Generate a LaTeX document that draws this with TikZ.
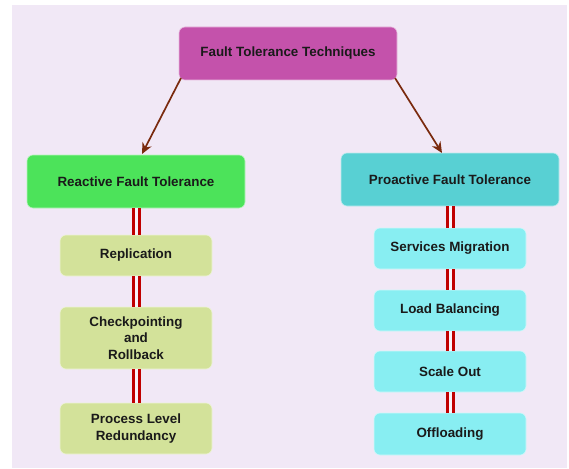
\documentclass[tikz,border=0pt]{standalone}
\usepackage{fontspec}
\setmainfont{Liberation Sans}
\usetikzlibrary{arrows.meta}
\definecolor{bgc}{HTML}{F1E8F6}
\definecolor{topc}{HTML}{C452AB}
\definecolor{greenc}{HTML}{4CE35A}
\definecolor{cyanc}{HTML}{58D0D3}
\definecolor{olivec}{HTML}{D3E29A}
\definecolor{lcyanc}{HTML}{88EEF2}
\definecolor{redc}{HTML}{C00000}
\definecolor{arrowc}{HTML}{7A2A0E}
\definecolor{txtc}{HTML}{1A1A1A}
\tikzset{
  box/.style={rounded corners=6pt, draw=white!60!#1, fill=#1, line width=0.6pt,
    font=\bfseries\fontsize{13.4}{16.5}\selectfont, text=txtc, align=center, inner sep=0pt},
  link/.style={draw=redc, line width=3pt, double=bgc!50!white, double distance=3pt},
  arr/.style={draw=arrowc, line width=1.7pt, -{Stealth[length=11pt,width=10pt]}}
}
\begin{document}
\begin{tikzpicture}[x=1pt,y=-1pt]
\useasboundingbox (0,0) rectangle (569,468);
\fill[white] (0,0) rectangle (569,468);
\fill[bgc] (12,5) rectangle (567,468);
\node[box=topc, minimum width=218pt, minimum height=53pt] (top) at (288,53.5) {Fault Tolerance Techniques};
\node[box=greenc, minimum width=218pt, minimum height=53pt] (react) at (136,181.5) {Reactive Fault Tolerance};
\node[box=cyanc, minimum width=218pt, minimum height=53pt] (proact) at (450,179.5) {Proactive Fault Tolerance};
\node[box=olivec, minimum width=152pt, minimum height=41pt] (repl) at (136,255.5) {Replication};
\node[box=olivec, minimum width=152pt, minimum height=62pt] (check) at (136,338) {Checkpointing\\and\\Rollback};
\node[box=olivec, minimum width=152pt, minimum height=51pt] (proc) at (136,428.5) {Process Level\\Redundancy};
\node[box=lcyanc, minimum width=152pt, minimum height=41pt] (serv) at (450,248.5) {Services Migration};
\node[box=lcyanc, minimum width=152pt, minimum height=41pt] (load) at (450,310.5) {Load Balancing};
\node[box=lcyanc, minimum width=152pt, minimum height=41pt] (scale) at (450,371.5) {Scale Out};
\node[box=lcyanc, minimum width=152pt, minimum height=42pt] (off) at (450,434) {Offloading};
\draw[link] (react.south) -- (repl.north);
\draw[link] (repl.south) -- (check.north);
\draw[link] (check.south) -- (proc.north);
\draw[link] (proact.south) -- (serv.north);
\draw[link] (serv.south) -- (load.north);
\draw[link] (load.south) -- (scale.north);
\draw[link] (scale.south) -- (off.north);
\coordinate (a1) at (181,78);
\coordinate (a2) at (395,78);
\draw[arr] (a1) -- (142,154);
\draw[arr] (a2) -- (442,153);
\end{tikzpicture}
\end{document}
